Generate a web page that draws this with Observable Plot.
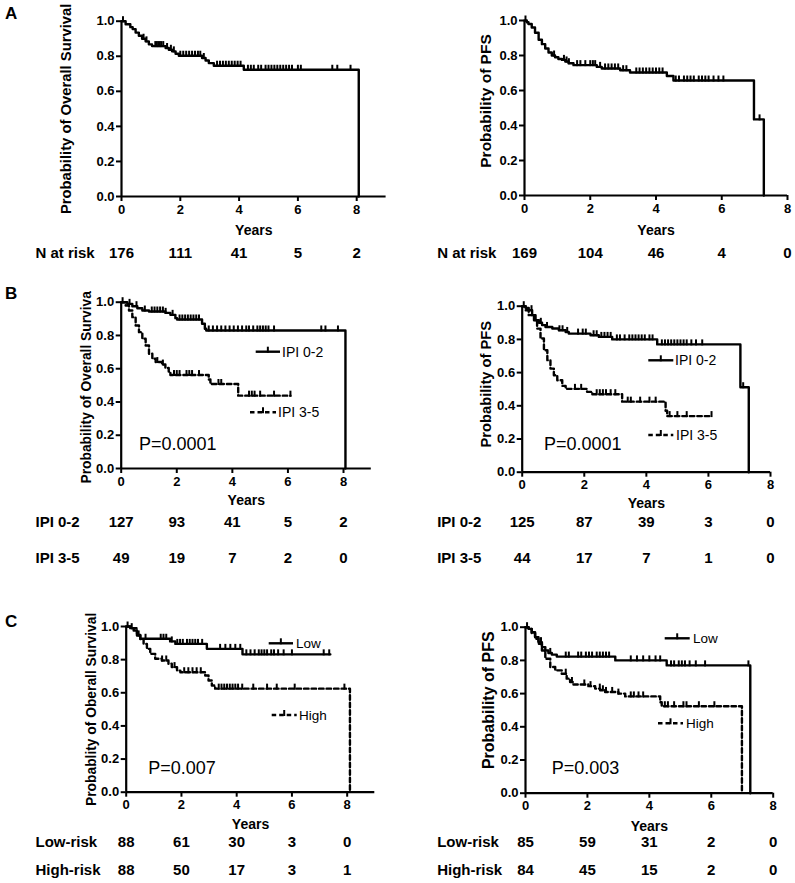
<!DOCTYPE html>
<html><head><meta charset="utf-8">
<script src="https://cdn.jsdelivr.net/npm/d3@7"></script>
<script src="https://cdn.jsdelivr.net/npm/@observablehq/plot@0.6"></script>
<style>
body{margin:0;background:#fff;}
#root{position:relative;width:795px;height:883px;overflow:hidden;background:#fff;}
#root svg.panel{position:absolute;}
.panel text{font-weight:bold;}
</style></head><body><div id="root"></div>
<script>
// ---------- data ----------
const riskTimes = [0, 2, 4, 6, 8];
const yTicks = [0, 0.2, 0.4, 0.6, 0.8, 1.0];
const xTicks = [0, 2, 4, 6, 8];

// A: overall survival, all patients  [years, survival]
const osAll = [[0,1],[0.14,0.983],[0.30,0.966],[0.38,0.955],[0.48,0.935],[0.59,0.917],[0.70,0.90],[0.82,0.885],[0.93,0.868],[1.04,0.858],[1.50,0.847],[1.61,0.837],[1.72,0.828],[1.84,0.814],[1.95,0.803],[2.74,0.79],[2.86,0.776],[2.97,0.761],[3.14,0.746],[4.16,0.723],[8.07,0]];
const osAllCens = [0.05,0.75,0.85,1.15,1.2,1.25,1.3,1.35,1.42,1.55,1.68,1.78,2.0,2.1,2.2,2.3,2.4,2.5,2.6,2.68,2.8,3.25,3.35,3.45,3.55,3.65,3.75,3.85,3.95,4.05,4.3,4.4,4.5,4.65,4.75,4.9,5.0,5.1,5.2,5.3,5.4,5.5,5.6,5.7,5.8,6.0,6.1,7.17,7.34,7.79];
const osAllRisk = [176, 111, 41, 5, 2];

// A: PFS, all patients
const pfsAll = [[0,1],[0.07,0.99],[0.12,0.98],[0.22,0.96],[0.32,0.93],[0.43,0.89],[0.53,0.865],[0.63,0.84],[0.73,0.817],[0.83,0.80],[0.93,0.79],[1.03,0.78],[1.14,0.775],[1.24,0.766],[1.34,0.756],[1.49,0.745],[2.2,0.735],[2.35,0.726],[2.91,0.716],[3.21,0.703],[4.33,0.683],[4.53,0.657],[6.98,0.435],[7.28,0]];
const pfsAllCens = [0.03,0.9,1.2,1.28,1.35,1.6,1.7,1.85,2.0,2.08,2.15,2.3,2.45,2.55,2.65,2.75,2.85,3.0,3.1,3.4,3.5,3.6,3.7,3.8,3.9,4.0,4.1,4.2,4.6,4.7,4.85,4.95,5.05,5.15,5.3,5.4,5.5,5.6,5.75,5.9,6.05,7.15];
const pfsAllRisk = [169, 104, 46, 4, 0];

// B: OS by IPI
const osIpiLow = [[0,1],[0.22,0.99],[0.40,0.976],[0.58,0.964],[0.76,0.95],[1.0,0.944],[1.59,0.936],[1.77,0.924],[1.95,0.904],[2.01,0.896],[2.91,0.87],[3.01,0.84],[3.06,0.83],[8.07,0]];
const osIpiLowCens = [0.05,0.3,0.55,0.85,1.1,1.2,1.3,1.4,1.5,1.6,1.85,2.1,2.2,2.3,2.4,2.5,2.6,2.7,2.8,3.15,3.3,3.45,3.6,3.75,3.9,4.05,4.2,4.35,4.5,4.6,4.75,4.9,5.0,5.1,5.2,5.3,5.5,7.2,7.35,7.8];
const osIpiHigh = [[0,1],[0.16,0.98],[0.28,0.95],[0.40,0.91],[0.52,0.86],[0.64,0.82],[0.76,0.78],[0.88,0.74],[1.0,0.69],[1.12,0.66],[1.24,0.64],[1.47,0.625],[1.59,0.605],[1.71,0.583],[1.77,0.562],[3.15,0.535],[3.21,0.508],[4.21,0.438],[6.09,0.438]];
const osIpiHighCens = [1.3,1.5,1.9,2.0,2.1,2.35,2.45,2.55,2.8,3.5,3.6,4.6,4.7,4.8,5.0,5.5,6.09];
const osIpiLowRisk = [127, 93, 41, 5, 2];
const osIpiHighRisk = [49, 19, 7, 2, 0];

// B: PFS by IPI
const pfsIpiLow = [[0,1],[0.11,0.99],[0.21,0.976],[0.32,0.946],[0.43,0.916],[0.54,0.90],[0.64,0.886],[0.75,0.875],[0.97,0.866],[1.18,0.855],[1.40,0.845],[1.50,0.835],[2.20,0.825],[2.47,0.815],[2.90,0.80],[4.35,0.77],[7.03,0.512],[7.30,0]];
const pfsIpiLowCens = [0.05,0.3,0.6,0.8,1.2,1.3,1.45,1.8,1.95,2.05,2.3,2.4,2.55,2.65,2.75,2.85,3.05,3.15,3.3,3.45,3.55,3.65,3.75,3.85,3.95,4.1,4.2,4.5,4.6,4.7,4.8,4.9,5.0,5.1,5.2,5.3,5.45,5.6,5.8,7.12];
const pfsIpiHigh = [[0,1],[0.11,0.976],[0.21,0.946],[0.38,0.915],[0.48,0.865],[0.59,0.805],[0.70,0.735],[0.81,0.675],[0.91,0.624],[1.02,0.584],[1.13,0.554],[1.29,0.52],[1.40,0.502],[2.09,0.484],[2.26,0.47],[3.22,0.425],[4.62,0.37],[4.67,0.338],[6.12,0.338]];
const pfsIpiHighCens = [1.7,1.9,2.4,2.5,2.6,2.7,2.85,3.0,3.4,3.5,3.8,4.1,4.3,4.75,5.0,5.3,6.1];
const pfsIpiLowRisk = [125, 87, 39, 3, 0];
const pfsIpiHighRisk = [44, 17, 7, 1, 0];

// C: OS by risk group
const osLow = [[0,1],[0.145,0.99],[0.27,0.976],[0.39,0.946],[0.51,0.926],[1.59,0.91],[1.78,0.895],[2.92,0.865],[4.21,0.832],[7.39,0.832]];
const osLowCens = [0.05,0.2,0.45,0.7,1.25,1.35,1.45,1.65,1.85,1.95,2.05,2.2,2.3,2.4,2.5,2.6,2.75,3.4,3.59,3.77,3.95,4.13,4.35,4.5,4.65,4.8,4.9,5.0,5.1,5.25,5.35,5.5,5.7,6.0,7.15,7.35];
const osHigh = [[0,1],[0.205,0.99],[0.39,0.955],[0.51,0.925],[0.63,0.895],[0.75,0.865],[0.87,0.835],[1.05,0.805],[1.29,0.795],[1.53,0.775],[1.65,0.755],[1.84,0.734],[1.96,0.724],[2.86,0.704],[2.98,0.674],[3.10,0.644],[3.22,0.625],[8.1,0]];
const osHighCens = [1.3,1.45,1.75,2.1,2.25,2.4,2.55,2.7,3.35,3.45,3.55,3.65,3.75,3.85,3.95,4.05,4.2,4.6,5.1,5.45,6.1,7.9];
const osLowRisk = [88, 61, 30, 3, 0];
const osHighRisk = [88, 50, 17, 3, 1];

// C: PFS by risk group
const pfsLow = [[0,1],[0.10,0.99],[0.20,0.97],[0.31,0.94],[0.42,0.91],[0.53,0.88],[0.64,0.86],[0.74,0.845],[0.85,0.835],[1.01,0.823],[2.90,0.80],[4.56,0.77],[7.26,0]];
const pfsLowCens = [0.05,0.5,0.8,1.3,1.4,1.7,1.8,1.95,2.05,2.15,2.3,2.4,2.5,2.6,2.7,3.4,3.6,3.8,4.0,4.2,4.35,4.7,4.8,4.95,5.05,5.15,5.3,5.5,5.8,7.2];
const pfsHigh = [[0,1],[0.10,0.99],[0.20,0.964],[0.31,0.93],[0.42,0.90],[0.53,0.86],[0.64,0.81],[0.80,0.76],[0.96,0.74],[1.17,0.72],[1.33,0.69],[1.44,0.67],[1.55,0.655],[2.03,0.645],[2.25,0.63],[2.41,0.62],[2.57,0.61],[3.0,0.60],[3.22,0.583],[4.35,0.548],[4.40,0.524],[6.99,0]];
const pfsHighCens = [1.3,1.5,1.9,2.1,2.4,2.5,2.6,2.8,3.0,3.4,3.5,3.65,3.8,4.5,4.6,4.8,5.1,5.2,5.6,6.1];
const pfsLowRisk = [85, 59, 31, 2, 0];
const pfsHighRisk = [84, 45, 15, 2, 0];

// ---------- drawing ----------
const FONT = "'Liberation Sans', Arial, Helvetica, sans-serif";
const root = document.getElementById("root");
const censorTick = {draw(ctx, size) { ctx.moveTo(0, -5); ctx.lineTo(0, 1); }};
function survAt(curve, t) { let s = 1; for (const [ti, si] of curve) if (ti <= t) s = si; return s; }

const panels = [
  {pos:[0,0,400,290], m:[121,14.4,20.7,94], xMax:9, ylab:"Probability of Overall Survival", ylabFs:14.8, ylabDx:-55, ylabDy:0, yearsDy:34,
   curves:[{pts:osAll, cens:osAllCens}], rows:[{label:"N at risk", vals:osAllRisk, dy:57}], rowX:35},
  {pos:[400,0,395,290], m:[124,8,20,95], xMax:8, ylab:"Probability of PFS", ylabFs:15.5, ylabDx:-38.5, ylabDy:-7, yearsDy:35,
   curves:[{pts:pfsAll, cens:pfsAllCens}], rows:[{label:"N at risk", vals:pfsAllRisk, dy:58}], rowX:436.7},
  {pos:[0,290,400,290], m:[120.7,29.2,11.7,112], xMax:9, ylab:"Probability of Overall Survival", ylabFs:13.8, ylabDx:-34.7, ylabDy:0, yearsDy:32,
   curves:[{pts:osIpiLow, cens:osIpiLowCens},{pts:osIpiHigh, cens:osIpiHighCens, dash:true}],
   rows:[{label:"IPI 0-2", vals:osIpiLowRisk, dy:54},{label:"IPI 3-5", vals:osIpiHighRisk, dy:90}], rowX:35},
  {pos:[400,290,395,290], m:[121.7,25,15.7,108.3], xMax:8, ylab:"Probability of PFS", ylabFs:14.7, ylabDx:-35.7, ylabDy:-5, yearsDy:31.3,
   curves:[{pts:pfsIpiLow, cens:pfsIpiLowCens},{pts:pfsIpiHigh, cens:pfsIpiHighCens, dash:true}],
   rows:[{label:"IPI 0-2", vals:pfsIpiLowRisk, dy:50.3},{label:"IPI 3-5", vals:pfsIpiHighRisk, dy:86.3}], rowX:436.7},
  {pos:[0,580,400,303], m:[125.7,25.7,46,91.3], xMax:9, ylab:"Probablity of Oberall Survival", ylabFs:13.8, ylabDx:-34.7, ylabDy:0, yearsDy:32.3,
   curves:[{pts:osLow, cens:osLowCens},{pts:osHigh, cens:osHighCens, dash:true}],
   rows:[{label:"Low-risk", vals:osLowRisk, dy:50.3},{label:"High-risk", vals:osHighRisk, dy:78.3}], rowX:35},
  {pos:[400,580,395,303], m:[125,22.3,46.7,90.3], xMax:8, ylab:"Probability of PFS", ylabFs:16, ylabDx:-37, ylabDy:-10, yearsDy:33.3,
   curves:[{pts:pfsLow, cens:pfsLowCens},{pts:pfsHigh, cens:pfsHighCens, dash:true}],
   rows:[{label:"Low-risk", vals:pfsLowRisk, dy:49.3},{label:"High-risk", vals:pfsHighRisk, dy:77.3}], rowX:436.7}
];

for (const p of panels) {
  const [left, top, w, h] = p.pos;
  const [mL, mR, mT, mB] = p.m;
  const marks = [
    Plot.axisY({ticks: yTicks, tickFormat: d3.format(".1f"), tickSize: 5, tickPadding: 2, fontSize: 13, fontWeight: "bold", strokeWidth: 2, label: null}),
    Plot.axisX({ticks: xTicks, tickFormat: d => String(d), tickSize: 5, tickPadding: 3, fontSize: 13, fontWeight: "bold", strokeWidth: 2, label: null}),
    Plot.ruleX([0], {strokeWidth: 2.2}),
    Plot.ruleY([0], {strokeWidth: 2.2})
  ];
  for (const c of p.curves) {
    marks.push(Plot.line(c.pts, {x: d => d[0], y: d => d[1], curve: "step-after", stroke: "black", strokeWidth: 2.4,
      strokeDasharray: c.dash ? "4.5,3" : "none"}));
    marks.push(Plot.dot(c.cens, {x: d => d, y: d => survAt(c.pts, d), symbol: censorTick, r: 3, fill: "none", stroke: "black", strokeWidth: 2}));
  }
  marks.push(Plot.text([p.ylab], {text: d => d, frameAnchor: "left", textAnchor: "middle", lineAnchor: "middle", rotate: -90, dx: p.ylabDx, dy: p.ylabDy, fontSize: p.ylabFs, fontWeight: "bold"}));
  marks.push(Plot.text(["Years"], {text: d => d, frameAnchor: "bottom", textAnchor: "middle", lineAnchor: "middle", dy: p.yearsDy, fontSize: 14, fontWeight: "bold"}));
  for (const r of p.rows) {
    marks.push(Plot.text(r.vals.map((n, i) => ({t: riskTimes[i], n})), {x: "t", y: 0, text: d => String(d.n), dy: r.dy, fontSize: 15, fontWeight: "bold"}));
    marks.push(Plot.text([r.label], {x: 0, y: 0, text: d => d, dx: p.rowX - (left + mL), dy: r.dy, textAnchor: "start", fontSize: 15, fontWeight: "bold"}));
  }
  const svg = Plot.plot({
    width: w, height: h, marginLeft: mL, marginRight: mR, marginTop: mT, marginBottom: mB,
    x: {domain: [0, p.xMax]}, y: {domain: [0, 1]},
    style: {fontFamily: FONT, background: "white", color: "black"},
    marks
  });
  svg.classList.add("panel");
  svg.style.left = left + "px";
  svg.style.top = top + "px";
  root.appendChild(svg);
}

// ---------- overlay: panel letters, legends, P values ----------
const ov = d3.select(root).append("svg").attr("width", 795).attr("height", 883)
  .style("position", "absolute").style("left", 0).style("top", 0).style("font-family", FONT);
const letters = [["A", 5, 13], ["B", 5, 293], ["C", 5, 621.5]];
for (const [t, x, y] of letters)
  ov.append("text").attr("x", x).attr("y", y).attr("dy", "0.35em").attr("font-size", 17).attr("font-weight", "bold").text(t);

const legends = [
  ["IPI 0-2", 255.7, 280, 351.7, 282, false, 14],
  ["IPI 3-5", 250, 276, 412.3, 278, true, 14],
  ["IPI 0-2", 648.3, 673.3, 360.3, 675, false, 14],
  ["IPI 3-5", 648.3, 673.3, 435, 676, true, 14],
  ["Low", 268.7, 293, 643.3, 296, false, 13.5],
  ["High", 271.7, 296.7, 715, 299, true, 13.5],
  ["Low", 664.7, 689.7, 638.3, 693, false, 13.5],
  ["High", 658, 683, 723.3, 686, true, 13.5]
];
for (const [t, x1, x2, y, tx, dash, fs] of legends) {
  ov.append("line").attr("x1", x1).attr("x2", x2).attr("y1", y).attr("y2", y).attr("stroke", "black").attr("stroke-width", 2.4)
    .attr("stroke-dasharray", dash ? "4.5,3" : null);
  const mx = (x1 + x2) / 2;
  ov.append("line").attr("x1", mx).attr("x2", mx).attr("y1", y - 5).attr("y2", y + 1).attr("stroke", "black").attr("stroke-width", 2);
  ov.append("text").attr("x", tx).attr("y", y).attr("dy", "0.35em").attr("font-size", fs).text(t);
}
const pvals = [["P=0.0001", 139, 444], ["P=0.0001", 544, 444], ["P=0.007", 148.3, 768], ["P=0.003", 551.7, 768]];
for (const [t, x, y] of pvals)
  ov.append("text").attr("x", x).attr("y", y).attr("dy", "0.35em").attr("font-size", 18).text(t);
</script></body></html>
